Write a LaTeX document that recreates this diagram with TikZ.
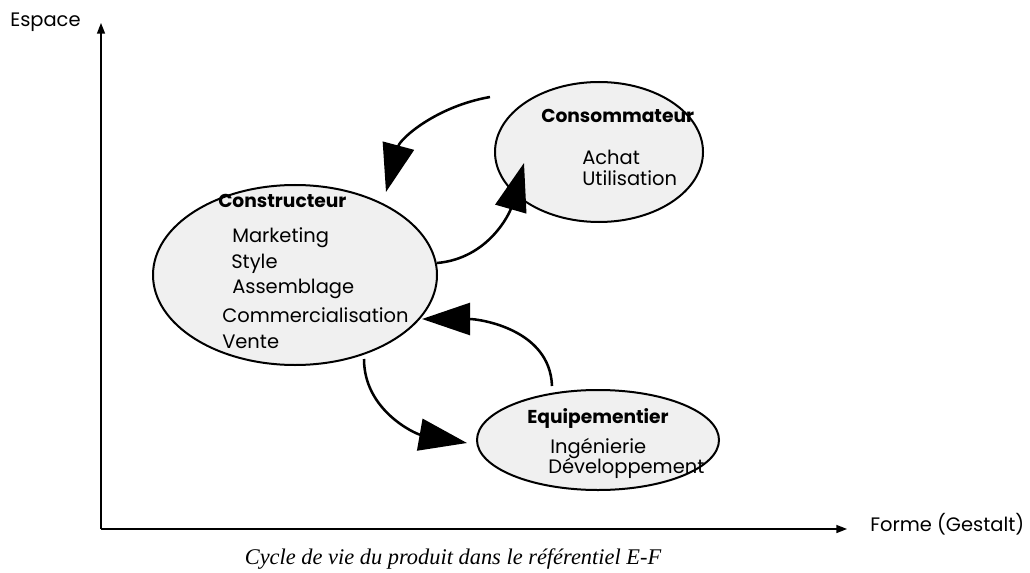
\documentclass[tikz,border=0pt]{standalone}
\usepackage{fontspec}
\setmainfont{Liberation Serif}
\newfontfamily\gothic{Poppins}
\usetikzlibrary{arrows.meta,shapes.geometric}
\definecolor{bulle}{gray}{0.94}

\begin{document}
\begin{tikzpicture}[x=0.75pt,y=0.75pt,
    acteur/.style={ellipse, draw, line width=1.5pt, fill=bulle, inner sep=0pt},
    titre/.style={anchor=base west, inner sep=0pt, font=\gothic\bfseries\fontsize{14}{16}\selectfont},
    tache/.style={anchor=base west, inner sep=0pt, font=\gothic\fontsize{14.6}{16}\selectfont},
    flux/.style={line width=1.9pt, -{Triangle[length=36pt,width=24pt]}},
    axe/.style={line width=1.1pt, -{Triangle[length=8pt,width=6pt]}}]
  \useasboundingbox (0,0) rectangle (1030,572);
  % axes
  \coordinate (O) at (101,43);
  \coordinate (Ytop) at (101,549);
  \coordinate (Xend) at (847,43);
  \draw[axe] (O) -- (Ytop);
  \draw[axe] (O) -- (Xend);
  \node[tache] (espace) at (10,545) {Espace};
  \node[tache] (forme) at (870,41) {Forme (Gestalt)};
  % acteurs
  \node[acteur, minimum width=213pt, minimum height=135pt] (constructeur) at (295,297) {};
  \node[acteur, minimum width=156pt, minimum height=105pt] (consommateur) at (599,420) {};
  \node[acteur, minimum width=181.5pt, minimum height=75pt] (equipementier) at (598,132) {};
  \node[titre] (t1) at (218,364) {Constructeur};
  \node[tache] (m) at (232,330) {Marketing};
  \node[tache] (s) at (231,304) {Style};
  \node[tache] (a) at (232,279) {Assemblage};
  \node[tache] (c) at (222,250) {Commercialisation};
  \node[tache] (v) at (222,224) {Vente};
  \node[titre] (t2) at (541,449) {Consommateur};
  \node[tache] (ach) at (582,407) {Achat};
  \node[tache] (u) at (582,387) {Utilisation};
  \node[titre] (t3) at (527,149) {Equipementier};
  \node[tache] (i) at (550,119) {Ingénierie};
  \node[tache] (d) at (548,99) {Développement};
  % flux du cycle
  \coordinate (d1) at (490,475); \coordinate (f1) at (386,380);
  \coordinate (d2) at (437,309); \coordinate (f2) at (524,409);
  \coordinate (d3) at (552,186); \coordinate (f3) at (422,253);
  \coordinate (d4) at (364,213); \coordinate (f4) at (467,129);
  \draw[flux] (d1) to[out=190,in=75] (f1);
  \draw[flux] (d2) to[out=5,in=254] (f2);
  \draw[flux] (d3) to[out=92,in=0] (f3);
  \draw[flux] (d4) to[out=270,in=170] (f4);
  \node[font=\itshape\fontsize{16.8}{18}\selectfont] (legende) at (453,13) {Cycle de vie du produit dans le référentiel E-F};
\end{tikzpicture}
\end{document}
